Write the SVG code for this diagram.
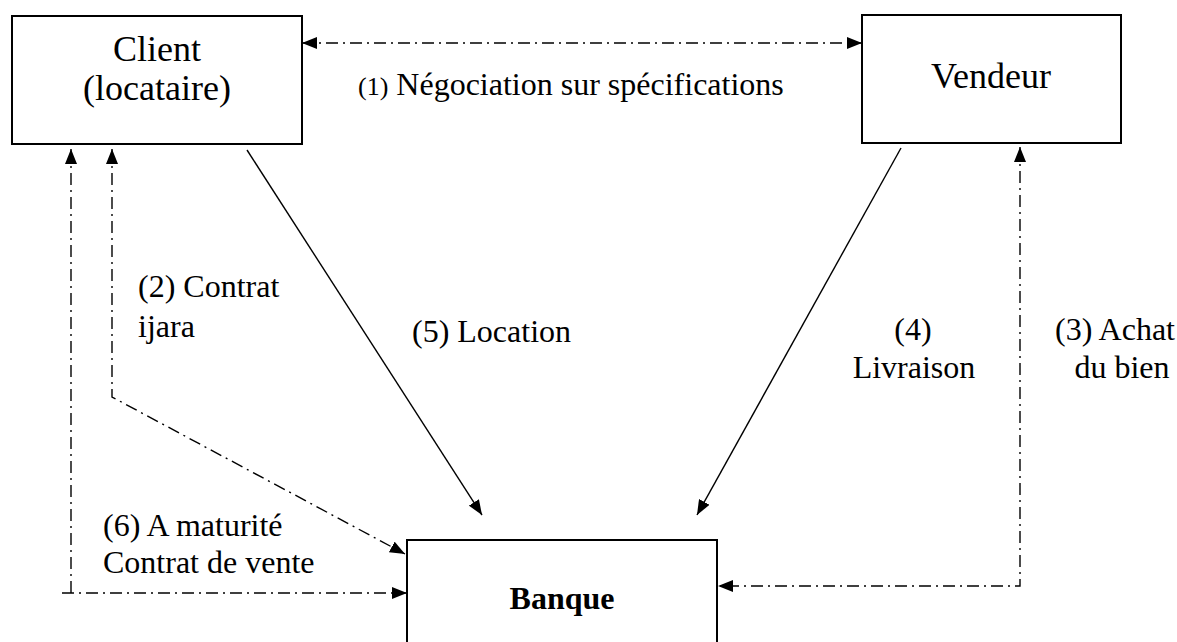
<svg xmlns="http://www.w3.org/2000/svg" width="1177" height="642" viewBox="0 0 1177 642">
<style>
.box{fill:#fff;stroke:#000;stroke-width:2}
.t{font-family:"Liberation Serif","Times New Roman",serif;fill:#000}
.big{font-size:36px}
.lab{font-size:32px}
.solid{fill:none;stroke:#000;stroke-width:1.4}
.dd{fill:none;stroke:#000;stroke-width:1.4;stroke-dasharray:12 5 2 5}
</style>
<defs>
<marker id="ah" viewBox="0 0 15 12" refX="15" refY="6" markerWidth="15" markerHeight="12" markerUnits="userSpaceOnUse" orient="auto-start-reverse">
<path d="M0,0 L15,6 L0,12 z" fill="#000"/>
</marker>
</defs>
<rect width="1177" height="642" fill="#fff"/>
<g id="connectors">
<path class="dd" d="M302,43 L862,43" marker-start="url(#ah)" marker-end="url(#ah)"/>
<path class="dd" d="M112,149 L112,397 L405,554" marker-start="url(#ah)" marker-end="url(#ah)"/>
<path class="dd" d="M71,149 L71,593 M62,593 L407,593" marker-start="url(#ah)" marker-end="url(#ah)"/>
<path class="dd" d="M1020,147 L1020,586 L718,586" marker-start="url(#ah)" marker-end="url(#ah)"/>
<path class="solid" d="M247,150 L482,515" marker-end="url(#ah)"/>
<path class="solid" d="M901,148 L697,515" marker-end="url(#ah)"/>
<text class="t lab" x="358" y="95"><tspan font-size="26">(1)</tspan> Négociation sur spécifications</text>
<text class="t lab" x="138" y="297">(2) Contrat</text>
<text class="t lab" x="138" y="337">ijara</text>
<text class="t lab" x="412" y="342">(5) Location</text>
<text class="t lab" x="913" y="340" text-anchor="middle">(4)</text>
<text class="t lab" x="914" y="378" text-anchor="middle">Livraison</text>
<text class="t lab" x="1175" y="340" text-anchor="end">(3) Achat</text>
<text class="t lab" x="1122" y="378" text-anchor="middle">du bien</text>
<text class="t lab" x="103" y="536">(6) A maturité</text>
<text class="t lab" x="103" y="573">Contrat de vente</text>
</g>
<g id="client">
<rect class="box" x="12" y="16" width="290" height="128"/>
<text class="t big" x="157" y="61" text-anchor="middle">Client</text>
<text class="t big" x="157" y="100" text-anchor="middle">(locataire)</text>
</g>
<g id="vendeur">
<rect class="box" x="862" y="15" width="259" height="128"/>
<text class="t big" x="991" y="88" text-anchor="middle">Vendeur</text>
</g>
<g id="banque">
<rect class="box" x="407" y="540" width="310" height="130"/>
<text class="t" x="562" y="609" text-anchor="middle" font-size="32" font-weight="bold">Banque</text>
</g>
</svg>
